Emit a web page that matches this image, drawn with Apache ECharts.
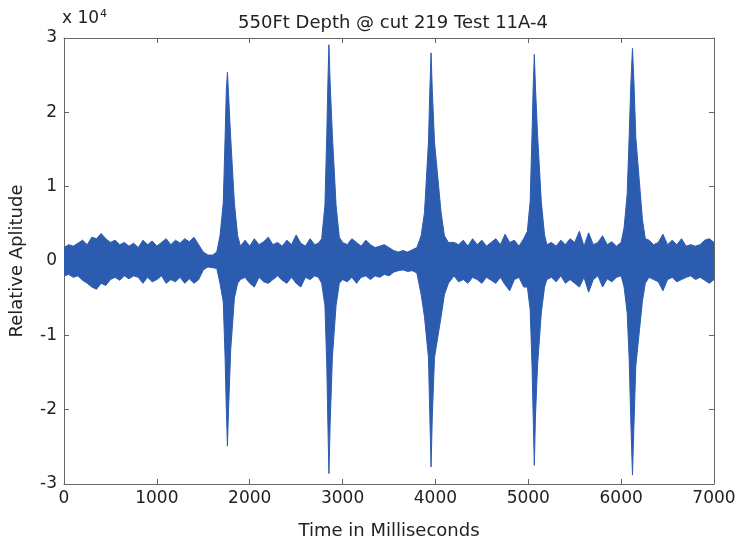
<!DOCTYPE html>
<html>
<head>
<meta charset="utf-8">
<script src="https://cdn.jsdelivr.net/npm/echarts@6/dist/echarts.min.js"></script>
<style>
  html,body{margin:0;padding:0;background:#fff;}
  #chart{width:740px;height:545px;}
</style>
</head>
<body>
<div id="chart"></div>
<script>
"use strict";

// envelope of the recorded signal, amplitude in units of 10^4
var times=[0,50,100,150,200,250,300,350,400,450,500,550,600,650,700,750,800,850,900,950,
  1000,1050,1100,1150,1200,1250,1300,1350,1400,1450,1500,1550,1600,1645,
  1680,1715,1735,1748,1760,1772,1795,1835,1870,
  1900,1950,2000,2050,2100,2150,2200,2250,2300,2350,2400,2450,2500,2550,2600,2650,2700,2740,
  2775,2810,2830,2842,2853,2866,2890,2930,2965,
  3000,3050,3100,3150,3200,3250,3300,3350,3400,3450,3500,3550,3600,3650,3700,3750,3800,
  3846,3882,3925,3940,3953,3966,3990,4061,4097,4140,
  4200,4250,4300,4350,4400,4450,4500,4550,4600,4650,4700,4750,4800,4850,4900,4950,
  4990,5020,5040,5053,5065,5077,5100,5140,5175,
  5200,5250,5300,5350,5400,5450,5500,5550,5600,5650,5700,5750,5800,5850,5900,5950,6000,
  6032,6065,6086,6105,6122,6138,6158,6229,6260,
  6300,6350,6400,6450,6500,6550,6600,6650,6700,6750,6800,6850,6900,6950,7000];

var upper=[0.18,0.22,0.2,0.24,0.28,0.22,0.32,0.3,0.37,0.3,0.25,0.28,0.22,0.25,0.2,0.24,0.18,0.28,0.22,0.27,
  0.2,0.25,0.3,0.22,0.28,0.24,0.3,0.26,0.32,0.22,0.12,0.08,0.08,0.12,
  0.34,0.78,1.66,2.3,2.54,2.25,1.66,0.78,0.34,
  0.2,0.28,0.2,0.3,0.22,0.26,0.32,0.22,0.25,0.2,0.28,0.22,0.35,0.24,0.2,0.3,0.22,0.24,
  0.3,0.75,1.7,2.4,2.91,2.4,1.7,0.75,0.32,
  0.25,0.22,0.3,0.25,0.2,0.28,0.22,0.18,0.2,0.22,0.18,0.14,0.12,0.14,0.12,0.15,0.18,
  0.34,0.65,1.6,2.3,2.8,2.3,1.6,0.65,0.34,0.25,
  0.25,0.22,0.28,0.2,0.3,0.22,0.28,0.2,0.25,0.3,0.22,0.36,0.25,0.28,0.2,0.3,
  0.4,0.8,1.7,2.35,2.78,2.35,1.7,0.8,0.35,
  0.22,0.25,0.2,0.28,0.22,0.3,0.25,0.4,0.2,0.38,0.22,0.25,0.34,0.22,0.26,0.2,0.25,
  0.45,0.9,1.66,2.4,2.86,2.4,1.66,0.56,0.3,
  0.28,0.22,0.25,0.36,0.22,0.28,0.22,0.3,0.2,0.22,0.2,0.22,0.28,0.3,0.25];

var lower=[-0.2,-0.18,-0.22,-0.2,-0.26,-0.3,-0.35,-0.38,-0.3,-0.33,-0.25,-0.22,-0.26,-0.2,-0.24,-0.2,-0.22,-0.3,-0.22,-0.28,
  -0.25,-0.2,-0.3,-0.25,-0.28,-0.22,-0.3,-0.24,-0.3,-0.25,-0.12,-0.08,-0.09,-0.1,
  -0.3,-0.55,-1.3,-2.0,-2.49,-2.0,-1.2,-0.5,-0.3,
  -0.25,-0.22,-0.3,-0.35,-0.22,-0.28,-0.3,-0.25,-0.2,-0.26,-0.3,-0.22,-0.3,-0.35,-0.22,-0.25,-0.2,-0.22,
  -0.3,-0.6,-1.4,-2.2,-2.86,-2.2,-1.3,-0.6,-0.3,
  -0.25,-0.28,-0.22,-0.3,-0.22,-0.2,-0.25,-0.2,-0.22,-0.18,-0.2,-0.15,-0.13,-0.12,-0.14,-0.13,-0.16,
  -0.45,-0.75,-1.3,-2.1,-2.77,-2.1,-1.3,-0.75,-0.45,-0.3,
  -0.2,-0.28,-0.25,-0.3,-0.22,-0.25,-0.3,-0.22,-0.26,-0.3,-0.22,-0.32,-0.4,-0.25,-0.22,-0.35,
  -0.35,-0.65,-1.4,-2.1,-2.75,-2.1,-1.4,-0.7,-0.35,
  -0.25,-0.22,-0.28,-0.2,-0.3,-0.25,-0.3,-0.35,-0.22,-0.42,-0.25,-0.2,-0.35,-0.24,-0.28,-0.22,-0.2,
  -0.35,-0.7,-1.3,-2.2,-2.88,-2.2,-1.41,-0.54,-0.3,
  -0.22,-0.25,-0.28,-0.4,-0.25,-0.22,-0.28,-0.25,-0.22,-0.2,-0.25,-0.22,-0.26,-0.3,-0.25];

var xTicks=[0,1000,2000,3000,4000,5000,6000,7000];
var yTicks=[-3,-2,-1,0,1,2,3];

var titleText='550Ft Depth @ cut 219 Test 11A-4';
var xName='Time in Milliseconds';
var yName='Relative Aplitude';

function pairs(arr){
  return times.map(function(t,i){return [t,arr[i]];});
}

var blue='#2c5caf';
var frame='#666';
var ink='#222';
var font='"DejaVu Sans", sans-serif';

var chart=echarts.init(document.getElementById('chart'),null,{renderer:'canvas'});

var boxAxis={
  axisLine:{show:true,onZero:false,lineStyle:{color:frame,width:1}},
  axisTick:{show:true,inside:true,length:5,lineStyle:{color:frame}},
  splitLine:{show:false},
};

chart.setOption({
  animation:false,
  backgroundColor:'#fff',
  title:{
    text:titleText,
    left:388,top:9,textAlign:'center',
    textStyle:{fontFamily:font,fontSize:18,fontWeight:'normal',color:ink}
  },
  graphic:[{
    type:'text',left:62,top:9,
    style:{
      text:'{a|x 10}{b|4}',
      rich:{
        a:{fontFamily:font,fontSize:17,fill:ink},
        b:{fontFamily:font,fontSize:11,fill:ink,verticalAlign:'top',padding:[0,0,9,1]}
      }
    }
  }],
  grid:{left:64,right:26,top:38,bottom:51,containLabel:false},
  xAxis:[
    Object.assign({
      type:'value',min:0,max:7000,interval:1000,position:'bottom',
      name:xName,nameLocation:'middle',nameGap:38,
      nameTextStyle:{fontFamily:font,fontSize:18,color:ink},
      axisLabel:{fontFamily:font,fontSize:17,color:ink,margin:6,
        formatter:function(v){return xTicks.indexOf(v)>=0?String(v):'';}}
    },boxAxis),
    Object.assign({
      type:'value',min:0,max:7000,interval:1000,position:'top',
      axisLabel:{show:false}
    },boxAxis)
  ],
  yAxis:[
    Object.assign({
      type:'value',min:-3,max:3,interval:1,position:'left',
      name:yName,nameLocation:'middle',nameGap:38,nameRotate:90,
      nameTextStyle:{fontFamily:font,fontSize:18,color:ink},
      axisLabel:{fontFamily:font,fontSize:17,color:ink,margin:7,
        formatter:function(v){return yTicks.indexOf(v)>=0?String(v):'';}}
    },boxAxis),
    Object.assign({
      type:'value',min:-3,max:3,interval:1,position:'right',
      axisLabel:{show:false}
    },boxAxis)
  ],
  series:[
    {
      // origins overlap slightly so no light seam shows along zero
      type:'line',name:'upper',data:pairs(upper),
      symbol:'none',smooth:false,
      lineStyle:{color:blue,width:1},
      areaStyle:{color:blue,opacity:1,origin:-0.05}
    },
    {
      type:'line',name:'lower',data:pairs(lower),
      symbol:'none',smooth:false,
      lineStyle:{color:blue,width:1},
      areaStyle:{color:blue,opacity:1,origin:0.05}
    }
  ]
});
</script>
</body>
</html>
